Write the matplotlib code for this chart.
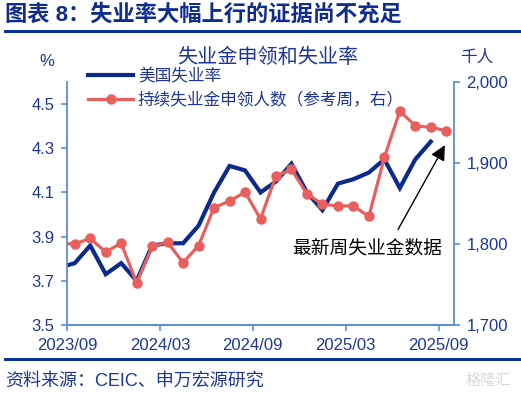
import matplotlib
matplotlib.use("Agg")
import matplotlib.pyplot as plt
from matplotlib.ticker import FuncFormatter

plt.rcParams['font.family'] = ['Liberation Sans', 'Noto Sans CJK SC', 'DejaVu Sans']

# Data (monthly; first point 2023/08 lies just left of the visible window)
months = ['2023/08', '2023/09', '2023/10', '2023/11', '2023/12', '2024/01', '2024/02',
          '2024/03', '2024/04', '2024/05', '2024/06', '2024/07', '2024/08', '2024/09',
          '2024/10', '2024/11', '2024/12', '2025/01', '2025/02', '2025/03', '2025/04',
          '2025/05', '2025/06', '2025/07', '2025/08', '2025/09']
unemployment = [3.76, 3.78, 3.86, 3.73, 3.78, 3.70, 3.86, 3.87, 3.87, 3.95, 4.10,
                4.22, 4.20, 4.10, 4.15, 4.23, 4.10, 4.02, 4.14, 4.16, 4.19, 4.25,
                4.12, 4.25, 4.33, None]
claims = [1801, 1800, 1807, 1790, 1801, 1752, 1797, 1802, 1777, 1798, 1845, 1853,
          1864, 1831, 1884, 1892, 1862, 1849, 1847, 1847, 1834, 1907, 1964, 1946,
          1944, 1940]
tick_labels = ['2023/09', '2024/03', '2024/09', '2025/03', '2025/09']
tick_index = [1, 7, 13, 19, 25]
left_ticks = [3.5, 3.7, 3.9, 4.1, 4.3, 4.5]
right_ticks = [1700, 1800, 1900, 2000]

NAVY = '#0B2A8C'
RED = '#E8605E'
AXIS = '#5B8FD6'
TXT = '#1E3595'

fig = plt.figure(figsize=(5.21, 3.97), dpi=100)
ax = fig.add_axes([67/521, 1-325/397, (454-67)/521, (325-82)/397])
ax2 = ax.twinx()

# x position: category i centre at i - 0.5 (first visible month starts at 0)
xs = [i - 0.5 for i in range(len(months))]
ux = [x for x, v in zip(xs, unemployment) if v is not None]
uy = [v for v in unemployment if v is not None]

l1, = ax.plot(ux, uy, color=NAVY, lw=3.0, solid_joinstyle='miter', label='美国失业率')
l2, = ax2.plot(xs, claims, color=RED, lw=2.3, marker='o', ms=6.5,
               label='持续失业金申领人数（参考周，右）')

ax.set_xlim(0, 25)
ax.set_ylim(3.5, 4.6)
ax2.set_ylim(1700, 2000)

ax.set_yticks(left_ticks)
ax.yaxis.set_major_formatter(FuncFormatter(lambda v, p: f'{v:.1f}'))
ax2.set_yticks(right_ticks)
ax2.yaxis.set_major_formatter(FuncFormatter(lambda v, p: f'{int(v):,}'))
ax.set_xticks([t - 1 for t in tick_index])
ax.set_xticklabels(tick_labels)

for a in (ax, ax2):
    a.spines['top'].set_visible(False)
    for s in ('left', 'right', 'bottom'):
        a.spines[s].set_color(AXIS)
        a.spines[s].set_linewidth(1.3)
    a.tick_params(colors=AXIS, labelcolor=TXT, labelsize=12, length=4, width=1.2)
ax.spines['right'].set_visible(False)
ax2.spines['left'].set_visible(False)
ax.tick_params(axis='x', pad=5)
ax.tick_params(axis='y', pad=5)
ax2.tick_params(axis='y', pad=5)

# Legend
fig.legend(handles=[l1, l2], loc='upper left', bbox_to_anchor=(88/521, 1-68/397),
           frameon=False, fontsize=12, handlelength=2.7, handletextpad=0.3,
           labelspacing=0.45, labelcolor=TXT, borderaxespad=0, borderpad=0)

# Axis unit labels and chart title
fig.text(47/521, 1-62/397, '%', ha='center', va='center', fontsize=12, color=TXT)
fig.text(477/521, 1-57/397, '千人', ha='center', va='center', fontsize=12, color=TXT)
fig.text(268/521, 1-57/397, '失业金申领和失业率', ha='center', va='center',
         fontsize=14.5, color=TXT)

# Annotation
ax2.annotate('', xy=(24.5, 1925), xytext=(21.3, 1815),
             arrowprops=dict(arrowstyle='-|>,head_length=0.9,head_width=0.45',
                             color='black', lw=1.0))
ax2.text(19.4, 1794, '最新周失业金数据', ha='center', va='center', fontsize=13.5,
         color='black')

# Title and frame lines
fig.text(5/521, 1-15/397, '图表 8：失业率大幅上行的证据尚不充足', ha='left', va='center',
         fontsize=16, fontweight='bold', color='#102C8E')
fig.add_artist(plt.Line2D([5/521, 1], [1-30.5/397, 1-30.5/397], color='#0A3596', lw=2.2))
fig.add_artist(plt.Line2D([5/521, 1], [1-359/397, 1-359/397], color='#0A3596', lw=2.2))
fig.text(5/521, 1-381/397, '资料来源：CEIC、申万宏源研究', ha='left', va='center',
         fontsize=13, color=TXT)
fig.text(488/521, 1-381/397, '格隆汇', ha='center', va='center', fontsize=11,
         color='#D8D8D8')

fig.savefig('out.png', dpi=100)
